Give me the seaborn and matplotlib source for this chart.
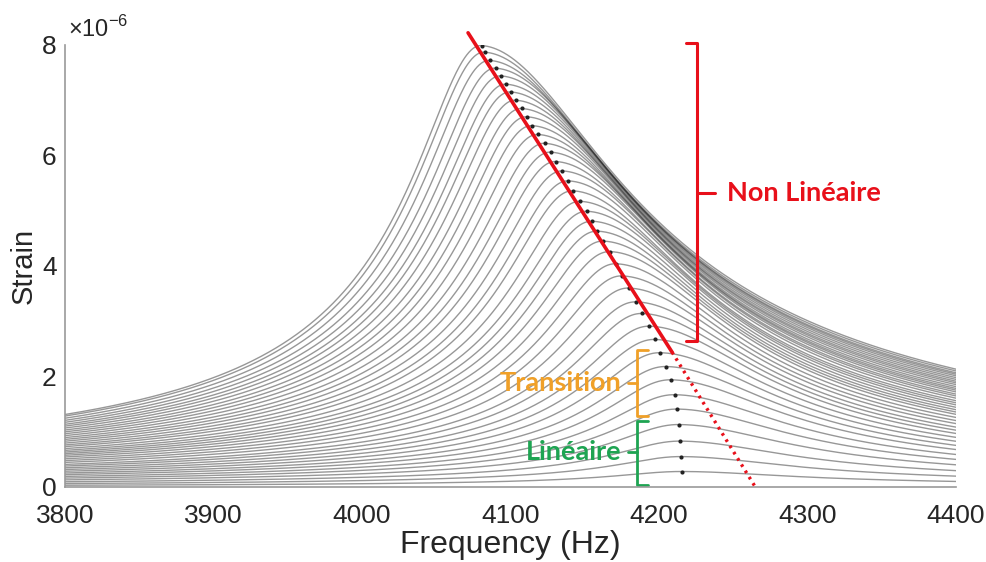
import numpy as np
import pandas as pd
import matplotlib
matplotlib.use('Agg')
import matplotlib.pyplot as plt
import seaborn as sns

# peaks of the resonance curves, strain in 1e-6
peak_strain = [0.28, 0.55, 0.83, 1.13, 1.41, 1.67, 1.94, 2.18, 2.43, 2.67,
               2.91, 3.14, 3.35, 3.60, 3.82, 4.04, 4.26, 4.45, 4.63, 4.81,
               4.99, 5.17, 5.36, 5.54, 5.72, 5.89, 6.06, 6.22, 6.38, 6.54,
               6.70, 6.85, 7.00, 7.15, 7.29, 7.44, 7.58, 7.72, 7.87, 7.99]
peak_freq = [4215.5, 4215.0, 4214.3, 4213.5, 4212.3, 4210.5, 4208.0, 4204.7, 4200.7, 4197.0,
             4193.5, 4188.5, 4184.5, 4179.5, 4175.0, 4171.0, 4167.0, 4162.5, 4158.5, 4155.0,
             4151.5, 4147.0, 4142.0, 4139.0, 4135.0, 4130.5, 4127.0, 4123.0, 4118.5, 4114.5,
             4111.0, 4107.5, 4103.5, 4100.0, 4097.0, 4093.5, 4090.0, 4086.0, 4082.5, 4080.5]
damping_low = 90.0        # Hz, below the peak
damping_high_lin = 145.0  # Hz, above the peak, weak drive
damping_high_top = 185.0  # Hz, above the peak, strongest drive

# red trend line: solid part then dotted extrapolation
trend_freq = [4071.4, 4208.8, 4265.3]
trend_strain = [8.22, 2.44, -0.02]

x_ticks = [3800, 3900, 4000, 4100, 4200, 4300, 4400]
y_ticks = [0, 2, 4, 6, 8]

# asymmetric oscillator response around each measured peak
freq = np.arange(3800, 4400.01, 0.5)
a_top = max(peak_strain)
frames = []
for k, (a_k, f_k) in enumerate(zip(peak_strain, peak_freq)):
    g_hi = damping_high_lin + (damping_high_top - damping_high_lin) * (a_k / a_top) ** 2
    g = np.where(freq < f_k, damping_low, g_hi)
    amp = a_k * g * f_k / np.sqrt((f_k**2 - freq**2)**2 + (g * freq)**2)
    frames.append(pd.DataFrame({'freq': freq, 'strain': amp, 'curve': k}))
curves = pd.concat(frames, ignore_index=True)

sns.set_theme(style='white')
plt.rcParams['font.family'] = ['Liberation Sans', 'DejaVu Sans']
plt.rcParams['mathtext.fontset'] = 'custom'
plt.rcParams['mathtext.rm'] = 'Liberation Sans'

fig = plt.figure(figsize=(9.87, 5.62), dpi=100)
ax = fig.add_axes([0.0659, 0.1335, 0.9027, 0.7865])

sns.lineplot(data=curves, x='freq', y='strain', units='curve', estimator=None,
             color='k', alpha=0.45, lw=1.0, legend=False, sort=False, ax=ax)
sns.scatterplot(x=peak_freq, y=peak_strain, color='#222222', s=9, linewidth=0, ax=ax, zorder=3)

red = '#e8101a'
ax.plot(trend_freq[:2], trend_strain[:2], color=red, lw=2.6, clip_on=False, zorder=4)
ax.plot(trend_freq[1:], trend_strain[1:], color=red, lw=2.4, ls=(0, (0.8, 1.4)),
        clip_on=False, zorder=4)

# brackets
ax.plot([4218.2, 4225.6, 4225.6, 4218.2], [8.04, 8.04, 2.64, 2.64], color=red, lw=2.2, clip_on=False)
ax.plot([4225.6, 4237.7], [5.32, 5.32], color=red, lw=2.2, clip_on=False)
ax.text(4245.8, 5.32, 'Non Linéaire', color=red, fontsize=19.5, fontweight='bold',
        family='Lato', va='center', ha='left')

orange = '#f0a028'
ax.plot([4192.6, 4185.2, 4185.2, 4192.6], [2.48, 2.48, 1.29, 1.29], color=orange, lw=2.0, clip_on=False)
ax.plot([4185.2, 4179.1], [1.88, 1.88], color=orange, lw=2.0)
ax.text(4174.4, 1.88, 'Transition', color=orange, fontsize=19.5, fontweight='bold',
        family='Lato', va='center', ha='right')

green = '#1ea452'
ax.plot([4192.6, 4185.2, 4185.2, 4192.6], [1.20, 1.20, 0.04, 0.04], color=green, lw=2.0, clip_on=False)
ax.plot([4185.2, 4179.1], [0.63, 0.63], color=green, lw=2.0)
ax.text(4174.4, 0.63, 'Linéaire', color=green, fontsize=19.5, fontweight='bold',
        family='Lato', va='center', ha='right')

ax.set_xlim(3800, 4400)
ax.set_ylim(0, 8)
ax.set_xticks(x_ticks)
ax.set_yticks(y_ticks)
for side in ['top', 'right']:
    ax.spines[side].set_visible(False)
for side in ['left', 'bottom']:
    ax.spines[side].set_color('#9a9a9a')
    ax.spines[side].set_linewidth(1.2)
ax.tick_params(direction='in', length=5, width=1, color='#9a9a9a', labelsize=19,
               labelcolor='#262626')
ax.tick_params(axis='x', pad=12)
ax.tick_params(axis='y', pad=6)
ax.set_xlabel('Frequency (Hz)', fontsize=23, color='#262626', labelpad=2)
ax.set_ylabel('Strain', fontsize=21, color='#262626', labelpad=3)
ax.text(0.003, 1.008, r'$\times10^{-6}$', transform=ax.transAxes, fontsize=17,
        color='#262626', ha='left', va='bottom')

fig.savefig('out.png', dpi=100)
